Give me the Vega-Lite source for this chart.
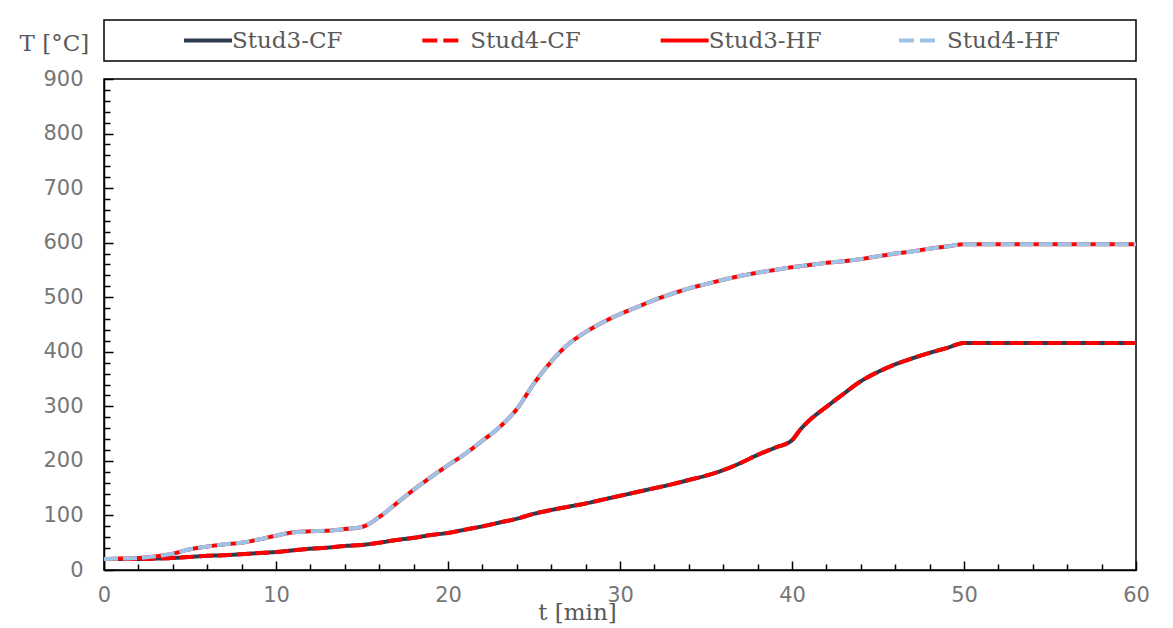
{
  "$schema": "https://vega.github.io/schema/vega-lite/v6.json",
  "background": "white",
  "padding": {"left": 18, "top": 19, "right": 30, "bottom": 4},
  "bounds": "flush",
  "spacing": 18,
  "config": {
    "view": {"stroke": "#000000", "strokeWidth": 1.5},
    "font": "DejaVu Sans"
  },
  "resolve": {"scale": {"strokeDash": "independent"}},
  "vconcat": [
    {
      "width": 1032,
      "height": 41,
      "data": {"values": [
        {"series": "Stud3-CF"},
        {"series": "Stud4-CF"},
        {"series": "Stud3-HF"},
        {"series": "Stud4-HF"}
      ]},
      "encoding": {
        "x": {
          "field": "series",
          "type": "nominal",
          "scale": {"type": "point", "domain": ["Stud3-CF", "Stud4-CF", "Stud3-HF", "Stud4-HF"], "range": [80, 795], "padding": 0},
          "axis": null
        },
        "y": {"datum": "legend", "type": "nominal", "axis": null}
      },
      "layer": [
        {
          "mark": {"type": "rule", "x2Offset": 48, "strokeWidth": 4, "strokeCap": "butt"},
          "encoding": {
            "x2": {"field": "series"},
            "color": {
              "field": "series",
              "type": "nominal",
              "scale": {"domain": ["Stud3-CF", "Stud4-CF", "Stud3-HF", "Stud4-HF"], "range": ["#2E3B4E", "#FF0000", "#FF0000", "#9DC3E6"]},
              "legend": null
            },
            "strokeDash": {
              "field": "series",
              "type": "nominal",
              "scale": {"domain": ["Stud3-CF", "Stud4-CF", "Stud3-HF", "Stud4-HF"], "range": [[1, 0], [15, 6, 15, 40], [1, 0], [15, 6, 15, 40]]},
              "legend": null
            }
          }
        },
        {
          "mark": {"type": "text", "align": "left", "baseline": "middle", "dx": 48, "font": "DejaVu Serif", "fontSize": 23, "color": "#595959"},
          "encoding": {"text": {"field": "series"}}
        }
      ]
    },
    {
      "width": 1032,
      "height": 491,
      "data": {"values": [
        {"t": 0, "Stud3-CF": 20, "Stud4-CF": 20, "Stud3-HF": 20, "Stud4-HF": 20},
        {"t": 1, "Stud3-CF": 20, "Stud4-CF": 20, "Stud3-HF": 21, "Stud4-HF": 21},
        {"t": 2, "Stud3-CF": 20, "Stud4-CF": 20, "Stud3-HF": 22, "Stud4-HF": 22},
        {"t": 3, "Stud3-CF": 21, "Stud4-CF": 21, "Stud3-HF": 25, "Stud4-HF": 25},
        {"t": 4, "Stud3-CF": 22, "Stud4-CF": 22, "Stud3-HF": 30, "Stud4-HF": 30},
        {"t": 5, "Stud3-CF": 24, "Stud4-CF": 24, "Stud3-HF": 38, "Stud4-HF": 38},
        {"t": 6, "Stud3-CF": 26, "Stud4-CF": 26, "Stud3-HF": 43, "Stud4-HF": 43},
        {"t": 7, "Stud3-CF": 27, "Stud4-CF": 27, "Stud3-HF": 47, "Stud4-HF": 47},
        {"t": 8, "Stud3-CF": 29, "Stud4-CF": 29, "Stud3-HF": 50, "Stud4-HF": 50},
        {"t": 9, "Stud3-CF": 31, "Stud4-CF": 31, "Stud3-HF": 56, "Stud4-HF": 56},
        {"t": 10, "Stud3-CF": 33, "Stud4-CF": 33, "Stud3-HF": 63, "Stud4-HF": 63},
        {"t": 11, "Stud3-CF": 36, "Stud4-CF": 36, "Stud3-HF": 69, "Stud4-HF": 69},
        {"t": 12, "Stud3-CF": 39, "Stud4-CF": 39, "Stud3-HF": 71, "Stud4-HF": 71},
        {"t": 13, "Stud3-CF": 41, "Stud4-CF": 41, "Stud3-HF": 72, "Stud4-HF": 72},
        {"t": 14, "Stud3-CF": 44, "Stud4-CF": 44, "Stud3-HF": 75, "Stud4-HF": 75},
        {"t": 15, "Stud3-CF": 46, "Stud4-CF": 46, "Stud3-HF": 79, "Stud4-HF": 79},
        {"t": 16, "Stud3-CF": 50, "Stud4-CF": 50, "Stud3-HF": 97, "Stud4-HF": 97},
        {"t": 17, "Stud3-CF": 55, "Stud4-CF": 55, "Stud3-HF": 122, "Stud4-HF": 122},
        {"t": 18, "Stud3-CF": 59, "Stud4-CF": 59, "Stud3-HF": 147, "Stud4-HF": 147},
        {"t": 19, "Stud3-CF": 64, "Stud4-CF": 64, "Stud3-HF": 170, "Stud4-HF": 170},
        {"t": 20, "Stud3-CF": 68, "Stud4-CF": 68, "Stud3-HF": 192, "Stud4-HF": 192},
        {"t": 21, "Stud3-CF": 74, "Stud4-CF": 74, "Stud3-HF": 213, "Stud4-HF": 213},
        {"t": 22, "Stud3-CF": 80, "Stud4-CF": 80, "Stud3-HF": 237, "Stud4-HF": 237},
        {"t": 23, "Stud3-CF": 87, "Stud4-CF": 87, "Stud3-HF": 262, "Stud4-HF": 262},
        {"t": 24, "Stud3-CF": 94, "Stud4-CF": 94, "Stud3-HF": 295, "Stud4-HF": 295},
        {"t": 25, "Stud3-CF": 103, "Stud4-CF": 103, "Stud3-HF": 342, "Stud4-HF": 342},
        {"t": 26, "Stud3-CF": 110, "Stud4-CF": 110, "Stud3-HF": 382, "Stud4-HF": 382},
        {"t": 27, "Stud3-CF": 116, "Stud4-CF": 116, "Stud3-HF": 414, "Stud4-HF": 414},
        {"t": 28, "Stud3-CF": 122, "Stud4-CF": 122, "Stud3-HF": 436, "Stud4-HF": 436},
        {"t": 29, "Stud3-CF": 129, "Stud4-CF": 129, "Stud3-HF": 454, "Stud4-HF": 454},
        {"t": 30, "Stud3-CF": 136, "Stud4-CF": 136, "Stud3-HF": 469, "Stud4-HF": 469},
        {"t": 31, "Stud3-CF": 143, "Stud4-CF": 143, "Stud3-HF": 482, "Stud4-HF": 482},
        {"t": 32, "Stud3-CF": 150, "Stud4-CF": 150, "Stud3-HF": 495, "Stud4-HF": 495},
        {"t": 33, "Stud3-CF": 157, "Stud4-CF": 157, "Stud3-HF": 506, "Stud4-HF": 506},
        {"t": 34, "Stud3-CF": 165, "Stud4-CF": 165, "Stud3-HF": 516, "Stud4-HF": 516},
        {"t": 35, "Stud3-CF": 173, "Stud4-CF": 173, "Stud3-HF": 524, "Stud4-HF": 524},
        {"t": 36, "Stud3-CF": 183, "Stud4-CF": 183, "Stud3-HF": 532, "Stud4-HF": 532},
        {"t": 37, "Stud3-CF": 196, "Stud4-CF": 196, "Stud3-HF": 539, "Stud4-HF": 539},
        {"t": 38, "Stud3-CF": 211, "Stud4-CF": 211, "Stud3-HF": 545, "Stud4-HF": 545},
        {"t": 39, "Stud3-CF": 224, "Stud4-CF": 224, "Stud3-HF": 550, "Stud4-HF": 550},
        {"t": 40, "Stud3-CF": 238, "Stud4-CF": 238, "Stud3-HF": 555, "Stud4-HF": 555},
        {"t": 40.5, "Stud3-CF": 258, "Stud4-CF": 258, "Stud3-HF": 557, "Stud4-HF": 557},
        {"t": 41, "Stud3-CF": 274, "Stud4-CF": 274, "Stud3-HF": 559, "Stud4-HF": 559},
        {"t": 42, "Stud3-CF": 299, "Stud4-CF": 299, "Stud3-HF": 563, "Stud4-HF": 563},
        {"t": 43, "Stud3-CF": 323, "Stud4-CF": 323, "Stud3-HF": 566, "Stud4-HF": 566},
        {"t": 44, "Stud3-CF": 346, "Stud4-CF": 346, "Stud3-HF": 570, "Stud4-HF": 570},
        {"t": 45, "Stud3-CF": 363, "Stud4-CF": 363, "Stud3-HF": 575, "Stud4-HF": 575},
        {"t": 46, "Stud3-CF": 377, "Stud4-CF": 377, "Stud3-HF": 580, "Stud4-HF": 580},
        {"t": 47, "Stud3-CF": 388, "Stud4-CF": 388, "Stud3-HF": 584, "Stud4-HF": 584},
        {"t": 48, "Stud3-CF": 398, "Stud4-CF": 398, "Stud3-HF": 589, "Stud4-HF": 589},
        {"t": 49, "Stud3-CF": 407, "Stud4-CF": 407, "Stud3-HF": 593, "Stud4-HF": 593},
        {"t": 50, "Stud3-CF": 416, "Stud4-CF": 416, "Stud3-HF": 597, "Stud4-HF": 597},
        {"t": 60, "Stud3-CF": 416, "Stud4-CF": 416, "Stud3-HF": 597, "Stud4-HF": 597}
      ]},
      "transform": [
        {"fold": ["Stud3-CF", "Stud4-CF", "Stud3-HF", "Stud4-HF"], "as": ["series", "T"]}
      ],
      "mark": {"type": "line", "interpolate": "monotone", "strokeWidth": 4, "strokeCap": "butt"},
      "encoding": {
        "x": {
          "field": "t",
          "type": "quantitative",
          "scale": {"domain": [0, 60], "nice": false, "zero": false},
          "axis": {
            "values": [0, 2, 4, 6, 8, 10, 12, 14, 16, 18, 20, 22, 24, 26, 28, 30, 32, 34, 36, 38, 40, 42, 44, 46, 48, 50, 52, 54, 56, 58, 60],
            "labelExpr": "datum.value % 10 === 0 ? datum.label : ''",
            "tickSize": {"condition": {"test": "datum.value % 10 === 0", "value": -9}, "value": -6},
            "tickColor": "#000000",
            "tickWidth": 1.5,
            "domainColor": "#000000",
            "domainWidth": 1.5,
            "grid": false,
            "labelFlush": false,
            "labelFont": "DejaVu Sans",
            "labelFontSize": 21,
            "labelColor": "#767676",
            "labelPadding": 23,
            "labelOverlap": false,
            "title": "t [min]",
            "titleX": 473,
            "titleY": 42,
            "titleAlign": "center",
            "titleBaseline": "middle",
            "titleFont": "DejaVu Serif",
            "titleFontSize": 23,
            "titleFontWeight": "normal",
            "titleColor": "#595959"
          }
        },
        "y": {
          "field": "T",
          "type": "quantitative",
          "scale": {"domain": [0, 900], "nice": false},
          "axis": {
            "values": [0, 20, 40, 60, 80, 100, 120, 140, 160, 180, 200, 220, 240, 260, 280, 300, 320, 340, 360, 380, 400, 420, 440, 460, 480, 500, 520, 540, 560, 580, 600, 620, 640, 660, 680, 700, 720, 740, 760, 780, 800, 820, 840, 860, 880, 900],
            "labelExpr": "datum.value % 100 === 0 ? datum.label : ''",
            "tickSize": {"condition": {"test": "datum.value % 100 === 0", "value": -9}, "value": -6},
            "tickColor": "#000000",
            "tickWidth": 1.5,
            "domainColor": "#000000",
            "domainWidth": 1.5,
            "grid": false,
            "labelFlush": false,
            "labelFont": "DejaVu Sans",
            "labelFontSize": 21,
            "labelColor": "#767676",
            "labelPadding": 30,
            "labelOverlap": false,
            "title": "T [°C]",
            "titleAngle": 0,
            "titleAlign": "left",
            "titleBaseline": "middle",
            "titleX": -85,
            "titleY": -36,
            "titleFont": "DejaVu Serif",
            "titleFontSize": 23,
            "titleFontWeight": "normal",
            "titleColor": "#595959"
          }
        },
        "color": {
          "field": "series",
          "type": "nominal",
          "scale": {"domain": ["Stud3-CF", "Stud4-CF", "Stud3-HF", "Stud4-HF"], "range": ["#2E3B4E", "#FF0000", "#FF0000", "#9DC3E6"]},
          "legend": null
        },
        "strokeDash": {
          "field": "series",
          "type": "nominal",
          "scale": {"domain": ["Stud3-CF", "Stud4-CF", "Stud3-HF", "Stud4-HF"], "range": [[1, 0], [14, 5], [1, 0], [14, 5]]},
          "legend": null
        }
      }
    }
  ]
}
